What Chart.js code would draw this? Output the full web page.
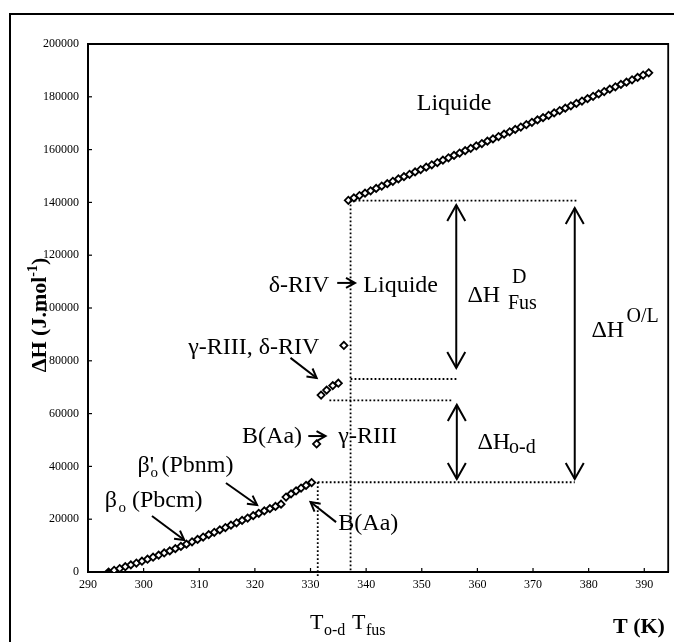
<!DOCTYPE html>
<html>
<head>
<meta charset="utf-8">
<script src="https://cdn.jsdelivr.net/npm/chart.js@4.4.0/dist/chart.umd.min.js"></script>
<style>
  html, body { margin: 0; padding: 0; background: #fff; }
  canvas { display: block; }
</style>
</head>
<body>
<canvas id="chart" width="674" height="642"></canvas>
<script>
// solid phases beta_o, beta'_o then B(Aa)
const solidT = [293.7, 294.7, 295.7, 296.7, 297.7, 298.7, 299.7, 300.7, 301.7, 302.7,
  303.7, 304.7, 305.7, 306.7, 307.7, 308.7, 309.7, 310.7, 311.7, 312.7,
  313.7, 314.7, 315.7, 316.7, 317.7, 318.7, 319.7, 320.7, 321.7, 322.7,
  323.7, 324.7, 325.6, 326.5, 327.4, 328.3, 329.2, 330.2];
const solidH = [0, 650, 1300, 2000, 2700, 3400, 4100, 4850, 5600, 6400,
  7200, 8000, 8850, 9700, 10550, 11450, 12350, 13250, 14150, 15050,
  15950, 16850, 17750, 18650, 19550, 20450, 21350, 22250, 23150, 24000,
  24850, 25700, 28400, 29600, 30700, 31800, 32800, 33900];

// B(Aa) -> gamma-RIII
const transT = [331.1];
const transH = [48500];

// gamma-RIII, delta-RIV
const gammaT = [331.9, 332.9, 334.0, 335.0];
const gammaH = [67000, 68900, 70600, 71500];

// delta-RIV
const deltaT = [336.0];
const deltaH = [85800];

// liquide
const liquidT = [336.8, 337.8, 338.8, 339.8, 340.8, 341.8, 342.8, 343.8, 344.8, 345.8,
  346.8, 347.8, 348.8, 349.8, 350.8, 351.8, 352.8, 353.8, 354.8, 355.8,
  356.8, 357.8, 358.8, 359.8, 360.8, 361.8, 362.8, 363.8, 364.8, 365.8,
  366.8, 367.8, 368.8, 369.8, 370.8, 371.8, 372.8, 373.8, 374.8, 375.8,
  376.8, 377.8, 378.8, 379.8, 380.8, 381.8, 382.8, 383.8, 384.8, 385.8,
  386.8, 387.8, 388.8, 389.8, 390.8];
const liquidH = [140800, 141700, 142600, 143500, 144400, 145300, 146200, 147100, 148000, 148900,
  149750, 150650, 151550, 152450, 153350, 154250, 155100, 156000, 156900, 157800,
  158700, 159600, 160500, 161400, 162300, 163200, 164050, 164950, 165850, 166750,
  167650, 168550, 169450, 170350, 171250, 172100, 173000, 173900, 174800, 175700,
  176600, 177500, 178400, 179300, 180200, 181100, 182000, 182900, 183800, 184700,
  185550, 186450, 187350, 188250, 189100];

const xTicks = [290, 300, 310, 320, 330, 340, 350, 360, 370, 380, 390];
const yTicks = [0, 20000, 40000, 60000, 80000, 100000, 120000, 140000, 160000, 180000, 200000];

const SERIF = "'Liberation Serif', 'Times New Roman', serif";

function pts(T, H) {
  return T.map((t, i) => ({ x: t, y: H[i] }));
}

function marker(T, H, extra) {
  return Object.assign({
    data: pts(T, H),
    pointStyle: 'rectRot',
    pointRadius: 3.6,
    borderWidth: 1.8,
    borderColor: '#000',
    backgroundColor: '#fff',
    showLine: false
  }, extra || {});
}

function openHead(ctx, x1, y1, x2, y2, len, half) {
  const a = Math.atan2(y2 - y1, x2 - x1);
  const c = Math.cos(a), s = Math.sin(a);
  ctx.beginPath();
  ctx.moveTo(x2 - len * c + half * s, y2 - len * s - half * c);
  ctx.lineTo(x2, y2);
  ctx.lineTo(x2 - len * c - half * s, y2 - len * s + half * c);
  ctx.stroke();
}

const overlay = {
  id: 'overlay',
  afterDraw(chart) {
    const ctx = chart.ctx;
    const xs = chart.scales.x, ys = chart.scales.y;
    const X = v => xs.getPixelForValue(v);
    const Y = v => ys.getPixelForValue(v);
    const a = chart.chartArea;
    ctx.save();
    ctx.strokeStyle = '#000';
    ctx.fillStyle = '#000';

    // outer frame
    ctx.lineWidth = 2;
    ctx.beginPath();
    ctx.moveTo(10, 660);
    ctx.lineTo(10, 14);
    ctx.lineTo(690, 14);
    ctx.stroke();

    // plot box top / right
    ctx.lineWidth = 1.8;
    ctx.beginPath();
    ctx.moveTo(a.left, a.top);
    ctx.lineTo(a.right, a.top);
    ctx.lineTo(a.right, a.bottom);
    ctx.stroke();

    // inner tick marks
    ctx.lineWidth = 1.2;
    xTicks.forEach(v => {
      ctx.beginPath(); ctx.moveTo(X(v), a.bottom); ctx.lineTo(X(v), a.bottom - 4); ctx.stroke();
    });
    yTicks.forEach(v => {
      ctx.beginPath(); ctx.moveTo(a.left, Y(v)); ctx.lineTo(a.left + 4, Y(v)); ctx.stroke();
    });

    // dotted guide lines
    ctx.lineWidth = 1.8;
    ctx.setLineDash([1.8, 2.2]);
    const dotted = [
      [331.3, 34000, 331.3, -2000],
      [337.2, 140700, 337.2, 0],
      [331.3, 34000, 377.5, 34000],
      [337.2, 140700, 377.9, 140700],
      [337.2, 73100, 356.4, 73100],
      [333.4, 65000, 355.5, 65000]
    ];
    dotted.forEach(d => {
      ctx.beginPath(); ctx.moveTo(X(d[0]), Y(d[1])); ctx.lineTo(X(d[2]), Y(d[3])); ctx.stroke();
    });
    ctx.setLineDash([]);

    // double arrows
    ctx.lineWidth = 2;
    const dbl = [
      [356.2, 139000, 77300],
      [356.3, 63300, 35200],
      [377.5, 137900, 35200]
    ];
    dbl.forEach(d => {
      const x = X(d[0]), y1 = Y(d[1]), y2 = Y(d[2]);
      ctx.beginPath(); ctx.moveTo(x, y1); ctx.lineTo(x, y2); ctx.stroke();
      openHead(ctx, x, y2, x, y1, 16, 9);
      openHead(ctx, x, y1, x, y2, 16, 9);
    });

    // single arrows
    const single = [
      [301.5, 21200, 307.3, 12100],
      [314.8, 33700, 320.4, 25400],
      [334.6, 18900, 330.0, 26500],
      [326.4, 81100, 331.1, 73500],
      [334.8, 109500, 338.0, 109500],
      [329.6, 51500, 332.7, 51500]
    ];
    single.forEach(d => {
      const x1 = X(d[0]), y1 = Y(d[1]), x2 = X(d[2]), y2 = Y(d[3]);
      ctx.beginPath(); ctx.moveTo(x1, y1); ctx.lineTo(x2, y2); ctx.stroke();
      openHead(ctx, x1, y1, x2, y2, 9, 5);
    });

    // texts
    ctx.textAlign = 'left';
    ctx.textBaseline = 'alphabetic';
    const txt = (s, t, h, size, bold) => {
      ctx.font = (bold ? 'bold ' : '') + size + 'px ' + SERIF;
      ctx.fillText(s, X(t), Y(h));
    };
    txt('Liquide', 349.1, 175000, 24);
    txt('δ-RIV', 322.5, 106060, 24);
    txt('Liquide', 339.5, 106060, 24);
    txt('ΔH', 358.2, 102300, 24);
    txt('D', 366.2, 109500, 20);
    txt('Fus', 365.5, 99600, 20);
    txt('ΔH', 380.5, 89000, 24);
    txt('O/L', 386.8, 94700, 20);
    txt('ΔH', 360.0, 46600, 24);
    txt('o-d', 365.7, 45100, 20);
    txt('γ-RIII, δ-RIV', 308.0, 82600, 24);
    txt('B(Aa)', 317.7, 48900, 24);
    txt('γ-RIII', 335.0, 48900, 24);
    txt("β'", 298.9, 37900, 24);
    txt('o', 301.25, 36000, 15);
    txt('(Pbnm)', 303.2, 37900, 24);
    txt('β', 293.0, 24600, 24);
    txt('o', 295.5, 22700, 15);
    txt('(Pbcm)', 297.9, 24600, 24);
    txt('B(Aa)', 335.0, 15900, 24);

    // x axis texts
    ctx.font = '22px ' + SERIF;
    ctx.fillText('T', 310, 629);
    ctx.fillText('T', 352, 629);
    ctx.font = '16px ' + SERIF;
    ctx.fillText('o-d', 324, 635);
    ctx.fillText('fus', 366, 635);
    ctx.font = 'bold 22px ' + SERIF;
    ctx.fillText('T (K)', 613, 633);

    // y axis title, rotated
    ctx.translate(46, 315);
    ctx.rotate(-Math.PI / 2);
    const big = 'bold 22px ' + SERIF, small = 'bold 14px ' + SERIF;
    ctx.font = big; const w1 = ctx.measureText('ΔH (J.mol').width;
    ctx.font = small; const w2 = ctx.measureText('-1').width;
    ctx.font = big; const w3 = ctx.measureText(')').width;
    let p = -(w1 + w2 + w3) / 2;
    ctx.font = big; ctx.fillText('ΔH (J.mol', p, 0); p += w1;
    ctx.font = small; ctx.fillText('-1', p, -9); p += w2;
    ctx.font = big; ctx.fillText(')', p, 0);
    ctx.restore();
  }
};

new Chart(document.getElementById('chart'), {
  type: 'scatter',
  data: {
    datasets: [
      marker(solidT, solidH, { pointBackgroundColor: solidT.map((t, i) => i === 0 ? '#000' : '#fff') }),
      marker(transT, transH),
      marker(gammaT, gammaH),
      marker(deltaT, deltaH),
      marker(liquidT, liquidH)
    ]
  },
  options: {
    responsive: false,
    animation: false,
    devicePixelRatio: 1,
    layout: { padding: { top: 44, right: 2, left: 0, bottom: 0 } },
    plugins: { legend: { display: false }, tooltip: { enabled: false } },
    scales: {
      x: {
        type: 'linear',
        min: 290,
        max: 394.3,
        afterBuildTicks: s => { s.ticks = xTicks.map(v => ({ value: v })); },
        afterFit: s => { s.height = 70; },
        grid: { display: false, drawTicks: false },
        border: { display: true, color: '#000', width: 2 },
        ticks: {
          padding: 6, color: '#000', maxRotation: 0, autoSkip: false,
          font: { family: SERIF, size: 12 },
          callback: v => String(v)
        }
      },
      y: {
        min: 0,
        max: 200000,
        afterBuildTicks: s => { s.ticks = yTicks.map(v => ({ value: v })); },
        afterFit: s => { s.width = 88; },
        grid: { display: false, drawTicks: false },
        border: { display: true, color: '#000', width: 2 },
        ticks: {
          padding: 9, color: '#000', autoSkip: false,
          font: { family: SERIF, size: 12 },
          callback: v => String(v)
        }
      }
    }
  },
  plugins: [overlay]
});
</script>
</body>
</html>
